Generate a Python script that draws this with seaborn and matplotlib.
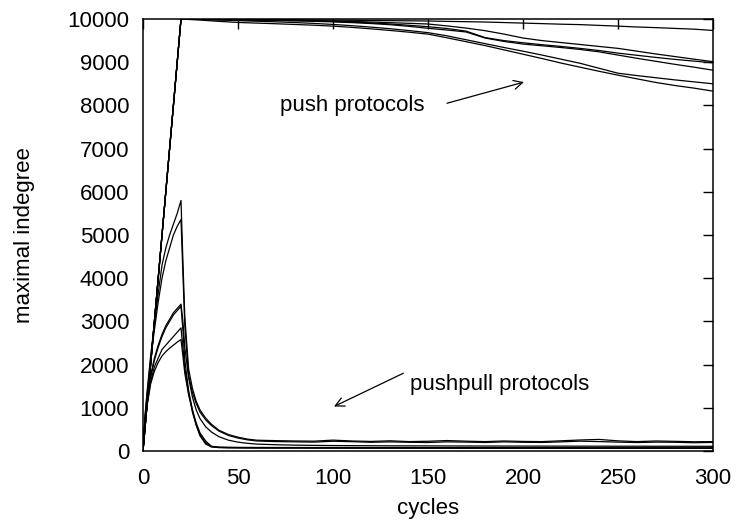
import matplotlib
matplotlib.use("Agg")
import matplotlib.pyplot as plt
import pandas as pd
import seaborn as sns

# ---------------- data ----------------
PUSH_CYCLES = [0, 20, 30, 40, 50, 60, 70, 80, 90, 100, 110, 120, 130, 140, 150,
               160, 170, 180, 190, 200, 210, 220, 230, 240, 250, 260, 270, 280, 290, 300]

push_a = [0, 10000, 9998, 9996, 9993, 9990, 9986, 9983, 9979, 9975, 9970, 9966, 9962, 9958, 9954,
          9945, 9938, 9930, 9918, 9905, 9893, 9880, 9870, 9852, 9835, 9815, 9800, 9782, 9765, 9735]
push_b = [0, 10000, 9996, 9992, 9988, 9984, 9978, 9972, 9964, 9955, 9944, 9930, 9915, 9900, 9884,
          9840, 9790, 9730, 9650, 9560, 9500, 9455, 9410, 9365, 9320, 9255, 9190, 9130, 9070, 9012]
push_c = [0, 10000, 9994, 9988, 9983, 9978, 9972, 9964, 9955, 9944, 9930, 9910, 9885, 9855, 9822,
          9780, 9720, 9570, 9500, 9450, 9405, 9365, 9320, 9270, 9210, 9160, 9110, 9065, 9025, 8985]
push_d = [0, 10000, 9992, 9985, 9978, 9972, 9965, 9957, 9946, 9933, 9916, 9895, 9868, 9830, 9785,
          9745, 9700, 9560, 9480, 9420, 9380, 9340, 9295, 9240, 9165, 9090, 9020, 8950, 8885, 8815]
push_e = [0, 10000, 9990, 9976, 9962, 9948, 9934, 9918, 9898, 9874, 9845, 9812, 9775, 9732, 9684,
          9610, 9520, 9430, 9340, 9255, 9165, 9070, 8975, 8860, 8745, 8690, 8640, 8590, 8545, 8500]
push_f = [0, 10000, 9975, 9945, 9920, 9905, 9890, 9873, 9856, 9835, 9806, 9772, 9735, 9695, 9650,
          9565, 9475, 9385, 9285, 9185, 9085, 8980, 8885, 8790, 8700, 8615, 8530, 8460, 8400, 8330]

PP_CYCLES = [0, 1, 2, 4, 6, 8, 10, 12, 14, 16, 18, 20,
             21, 22, 24, 26, 28, 30, 33, 36, 40, 45, 50, 55, 60,
             70, 80, 90, 100, 110, 120, 130, 140, 150, 160, 170, 180,
             190, 200, 210, 220, 230, 240, 250, 260, 270, 280, 290, 300]

pushpull_1 = [0, 800, 1300, 2200, 2950, 3650, 4300, 4700, 5000, 5250, 5500, 5800,
              4400, 3100, 1900, 1450, 1150, 950, 760, 620, 480, 380, 320, 275, 250,
              240, 232, 228, 252, 232, 222, 236, 218, 226, 242, 228, 218,
              232, 222, 218, 236, 255, 268, 235, 218, 232, 224, 214, 218]
pushpull_2 = [0, 750, 1250, 2100, 2800, 3450, 4000, 4400, 4700, 5000, 5200, 5360,
              4100, 2900, 1750, 1350, 1100, 900, 720, 590, 460, 360, 300, 258, 232,
              218, 212, 206, 226, 216, 202, 212, 202, 197, 212, 206, 197,
              212, 202, 198, 212, 228, 218, 206, 196, 206, 202, 192, 198]
pushpull_3 = [0, 700, 1150, 1750, 2150, 2450, 2700, 2900, 3050, 3200, 3300, 3400,
              3000, 2400, 1700, 1250, 950, 750, 560, 440, 330, 250, 205, 178, 160,
              145, 136, 130, 126, 124, 122, 120, 119, 118, 117, 116, 115,
              114, 114, 113, 113, 112, 112, 111, 111, 110, 110, 110, 109]
pushpull_4 = [0, 700, 1100, 1700, 2100, 2400, 2650, 2850, 3000, 3150, 3250, 3350,
              2800, 2100, 1400, 950, 600, 350, 160, 95, 78, 72, 70, 69, 68,
              67, 67, 66, 66, 65, 65, 65, 64, 64, 64, 63, 63,
              63, 63, 62, 62, 62, 62, 61, 61, 61, 61, 61, 60]
pushpull_5 = [0, 650, 1050, 1600, 1950, 2150, 2350, 2450, 2550, 2650, 2750, 2850,
              2400, 1900, 1350, 900, 600, 380, 190, 100, 85, 80, 78, 76, 75,
              74, 74, 73, 73, 72, 72, 72, 71, 71, 71, 71, 70,
              70, 70, 70, 69, 69, 69, 69, 68, 68, 68, 68, 68]
pushpull_6 = [0, 650, 1000, 1550, 1850, 2050, 2200, 2300, 2380, 2450, 2520, 2580,
              2200, 1800, 1300, 950, 650, 420, 230, 110, 90, 86, 84, 83, 82,
              81, 81, 80, 80, 80, 79, 79, 79, 78, 78, 78, 78,
              77, 77, 77, 77, 76, 76, 76, 76, 76, 75, 75, 75]

X_TICKS = [0, 50, 100, 150, 200, 250, 300]
Y_TICKS = [0, 1000, 2000, 3000, 4000, 5000, 6000, 7000, 8000, 9000, 10000]

# ---------------- build long table ----------------
frames = []
for name, vals in [("push_a", push_a), ("push_b", push_b), ("push_c", push_c),
                   ("push_d", push_d), ("push_e", push_e), ("push_f", push_f)]:
    frames.append(pd.DataFrame({"cycle": PUSH_CYCLES, "value": vals, "run": name}))
for name, vals in [("pp_1", pushpull_1), ("pp_2", pushpull_2), ("pp_3", pushpull_3),
                   ("pp_4", pushpull_4), ("pp_5", pushpull_5), ("pp_6", pushpull_6)]:
    frames.append(pd.DataFrame({"cycle": PP_CYCLES, "value": vals, "run": name}))
df = pd.concat(frames, ignore_index=True)

# ---------------- plot ----------------
sns.set_theme(style="white")
plt.rcParams["font.family"] = ["Liberation Sans", "DejaVu Sans"]
plt.rcParams["text.color"] = "black"
FS = 16

fig, ax = plt.subplots(figsize=(7.36, 5.22), dpi=100)
fig.subplots_adjust(left=0.1943, right=0.9688, top=0.9636, bottom=0.136)

sns.lineplot(data=df, x="cycle", y="value", units="run", estimator=None,
             color="black", lw=0.9, ax=ax, legend=False, sort=False)

ax.set_xlim(0, 300)
ax.set_ylim(0, 10000)
ax.set_xticks(X_TICKS)
ax.set_yticks(Y_TICKS)
ax.set_xticklabels([str(t) for t in X_TICKS], fontsize=FS)
ax.set_yticklabels([str(t) for t in Y_TICKS], fontsize=FS)
ax.tick_params(direction="in", length=7, width=1, top=True, right=True,
               colors="black")
ax.tick_params(axis="y", pad=10)
ax.tick_params(axis="x", pad=12)

for sp in ax.spines.values():
    sp.set_visible(True)
    sp.set_color("black")
    sp.set_linewidth(1.1)

ax.set_xlabel("cycles", fontsize=FS, color="black")
ax.set_ylabel("maximal indegree", fontsize=FS, color="black")
ax.xaxis.set_label_coords(0.5, -0.108)
ax.yaxis.set_label_coords(-0.19, 0.5)

arrow = dict(arrowstyle="->", color="black", lw=0.9, mutation_scale=16,
             shrinkA=0, shrinkB=0)
ax.annotate("", xy=(200.5, 8540), xytext=(160, 8050), arrowprops=arrow)
ax.text(72, 7990, "push protocols", ha="left", va="center", fontsize=FS, color="black")
ax.annotate("", xy=(100.5, 1030), xytext=(137, 1800), arrowprops=arrow)
ax.text(140.5, 1551, "pushpull protocols", ha="left", va="center", fontsize=FS, color="black")

fig.savefig("out.png", dpi=100)
